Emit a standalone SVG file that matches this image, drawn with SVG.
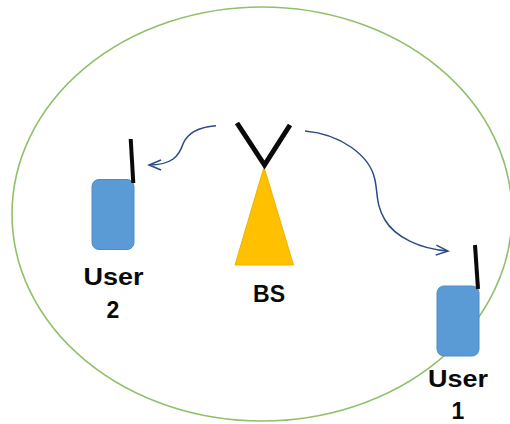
<svg xmlns="http://www.w3.org/2000/svg" width="510" height="424" viewBox="0 0 510 424">
<style>
.t{font-family:"Liberation Sans",Arial,sans-serif;font-weight:700;font-size:23px;fill:#0a0a0a;text-anchor:middle}
.d{fill:#5b9bd5;stroke:#4f8cc2;stroke-width:1}
.a{stroke:#0a0a0a;fill:none}
.c{stroke:#2a4b86;stroke-width:1.5;fill:none}
</style>
<defs><marker id="h" markerWidth="16" markerHeight="14" refX="13" refY="6" orient="auto" markerUnits="userSpaceOnUse"><path d="M1 1L13 6L1 11" fill="none" stroke="#2a4b86" stroke-width="1.5"/></marker></defs>
<rect width="510" height="424" fill="#fff"/>
<g id="cell"><ellipse cx="262" cy="214" rx="250" ry="207" fill="none" stroke="#8fc06a" stroke-width="1.6"/></g>
<g id="bs"><path d="M264 167L293.500 265H235Z" fill="#ffc000" stroke="#eeb400" stroke-width="1"/><path class="a" stroke-width="5" d="M237 123L264.500 165L290 125"/><text class="t" x="269" y="302" textLength="32" lengthAdjust="spacingAndGlyphs">BS</text></g>
<g id="user1"><rect class="d" x="437" y="286" width="42" height="70" rx="7"/><path class="a" stroke-width="4" d="M475 245L478 289"/><text class="t" x="458" y="387" textLength="60" lengthAdjust="spacingAndGlyphs">User</text><text class="t" x="458" y="419">1</text></g>
<g id="user2"><rect class="d" x="92" y="179.500" width="42" height="70" rx="7"/><path class="a" stroke-width="4" d="M130.700 139L133.300 183"/><text class="t" x="113.500" y="285" textLength="60" lengthAdjust="spacingAndGlyphs">User</text><text class="t" x="113" y="318">2</text></g>
<g id="connectors"><path class="c" marker-end="url(#h)" d="M216 125.700C198 127 187 134 183 144C179 156 172 165 149 165"/><path class="c" marker-end="url(#h)" d="M305 131C340 134 370 155 375 180C378 195 376 205 385 220C395 237 420 249 448 251"/></g>
</svg>
